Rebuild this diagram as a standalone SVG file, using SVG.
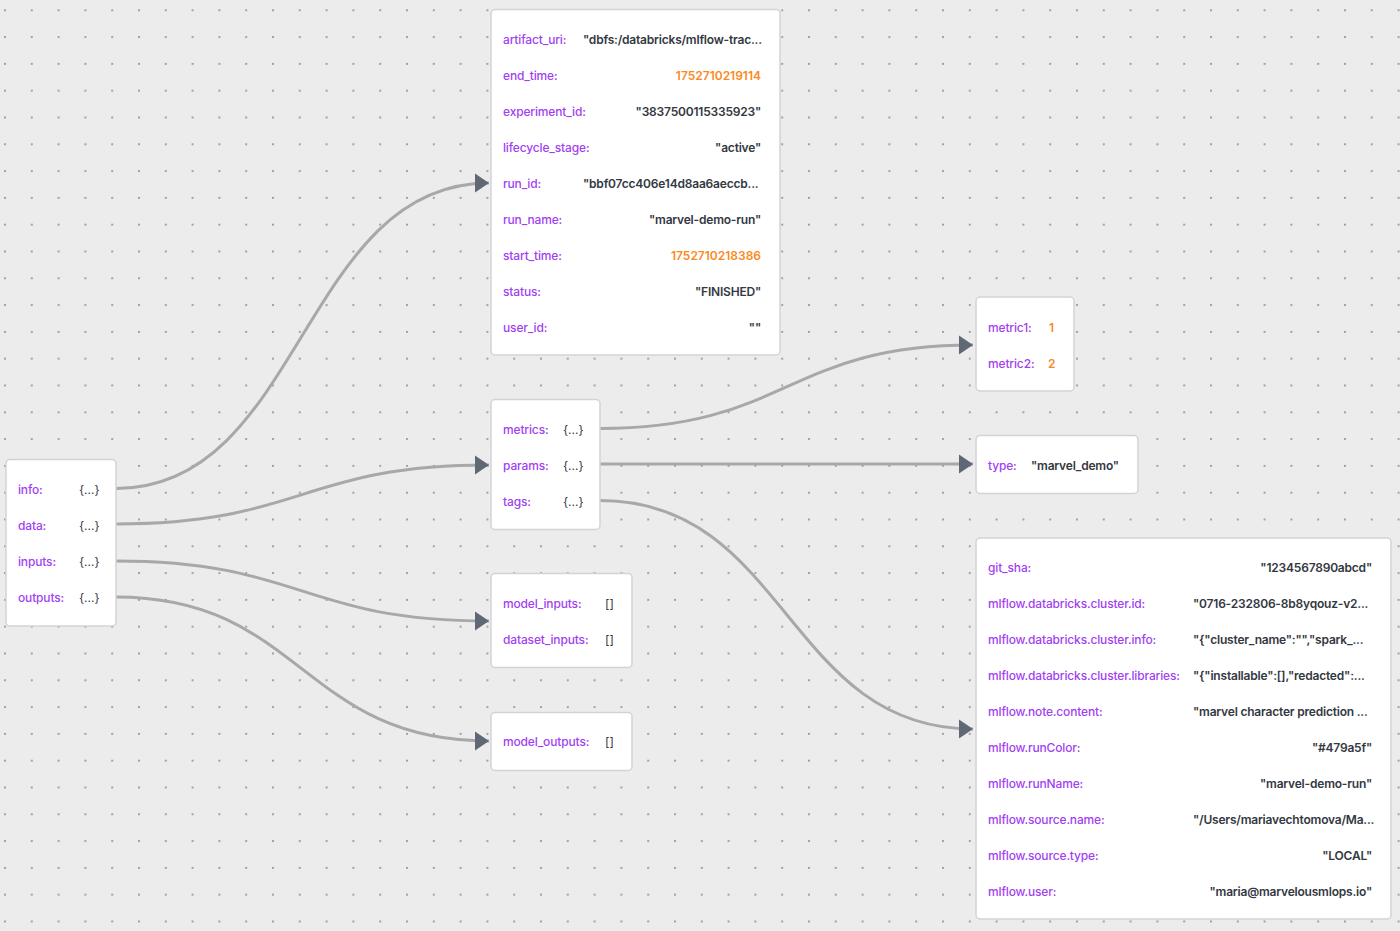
<svg xmlns="http://www.w3.org/2000/svg" width="1400" height="931" viewBox="0 0 1400 931">
<defs>
<pattern id="dots" patternUnits="userSpaceOnUse" x="4" y="9.3" width="26.8" height="26.8">
<circle cx="1" cy="1" r="1.1" fill="#9a9a9e"/>
</pattern>
<marker id="arr" markerUnits="userSpaceOnUse" markerWidth="15" markerHeight="20" viewBox="0 0 15 20" refX="14" refY="10" orient="auto">
<path d="M0,0.5 L14,10 L0,19.5 Z" fill="#616875"/>
</marker>
</defs>
<style>
.node rect{fill:#ffffff;stroke:#d1d3d8;stroke-width:1.5}
text{font-family:Inter,"Noto Sans","DejaVu Sans",sans-serif;font-size:12px}
.k{fill:#a23ff2;font-weight:500;letter-spacing:-0.15px}
.v{fill:#333842;font-weight:600;letter-spacing:-0.2px}
.n{fill:#f98a1e;font-weight:600}
.b{fill:#333842;font-weight:400}
.e{text-anchor:end}
.edges path{fill:none;stroke:#a8a8ac;stroke-width:3;marker-end:url(#arr)}
</style>
<rect width="1400" height="931" fill="#ececec"/>
<rect width="1400" height="931" fill="url(#dots)"/>
<g class="edges">
<path d="M116,488.5 C302,488.5 302,183 489,183"/>
<path d="M116,524 C302,524 302,465 489,465"/>
<path d="M116,561 C302,561 302,621 489,621"/>
<path d="M116,597 C302,597 302,741 489,741"/>
<path d="M600,428.5 C787,428.5 787,345 973,345"/>
<path d="M600,464 C787,464 787,464 973,464"/>
<path d="M600,500.5 C787,500.5 787,729 973,729"/>
</g>
<g id="node-root" class="node">
<rect x="6" y="459.5" width="110" height="166.5" rx="4"/>
<text x="18" y="494" class="k">info:</text><text x="79" y="494" class="b">{...}</text>
<text x="18" y="530" class="k">data:</text><text x="79" y="530" class="b">{...}</text>
<text x="18" y="566" class="k">inputs:</text><text x="79" y="566" class="b">{...}</text>
<text x="18" y="602" class="k">outputs:</text><text x="79" y="602" class="b">{...}</text>
</g>
<g id="node-info" class="node">
<rect x="491" y="9.5" width="289" height="345.5" rx="4"/>
<text x="503" y="44" class="k">artifact_uri:</text><text x="583" y="44" class="v">"dbfs:/databricks/mlflow-trac...</text>
<text x="503" y="80" class="k">end_time:</text><text x="761" y="80" class="n e">1752710219114</text>
<text x="503" y="116" class="k">experiment_id:</text><text x="761" y="116" class="v e">"3837500115335923"</text>
<text x="503" y="152" class="k">lifecycle_stage:</text><text x="761" y="152" class="v e">"active"</text>
<text x="503" y="188" class="k">run_id:</text><text x="583" y="188" class="v">"bbf07cc406e14d8aa6aeccb...</text>
<text x="503" y="224" class="k">run_name:</text><text x="761" y="224" class="v e">"marvel-demo-run"</text>
<text x="503" y="260" class="k">start_time:</text><text x="761" y="260" class="n e">1752710218386</text>
<text x="503" y="296" class="k">status:</text><text x="761" y="296" class="v e">"FINISHED"</text>
<text x="503" y="332" class="k">user_id:</text><text x="761" y="332" class="v e">""</text>
</g>
<g id="node-data" class="node">
<rect x="491" y="399.5" width="109" height="130" rx="4"/>
<text x="503" y="434" class="k">metrics:</text><text x="563" y="434" class="b">{...}</text>
<text x="503" y="470" class="k">params:</text><text x="563" y="470" class="b">{...}</text>
<text x="503" y="506" class="k">tags:</text><text x="563" y="506" class="b">{...}</text>
</g>
<g id="node-inputs" class="node">
<rect x="491" y="573.5" width="141" height="94" rx="4"/>
<text x="503" y="608" class="k">model_inputs:</text><text x="605" y="608" class="b">[]</text>
<text x="503" y="644" class="k">dataset_inputs:</text><text x="605" y="644" class="b">[]</text>
</g>
<g id="node-outputs" class="node">
<rect x="491" y="712.5" width="141" height="58" rx="4"/>
<text x="503" y="746" class="k">model_outputs:</text><text x="605" y="746" class="b">[]</text>
</g>
<g id="node-metrics" class="node">
<rect x="976" y="297" width="98" height="94" rx="4"/>
<text x="988" y="332" class="k">metric1:</text><text x="1049" y="332" class="n">1</text>
<text x="988" y="368" class="k">metric2:</text><text x="1048" y="368" class="n">2</text>
</g>
<g id="node-params" class="node">
<rect x="976" y="435.5" width="162" height="58" rx="4"/>
<text x="988" y="470" class="k">type:</text><text x="1031" y="470" class="v">"marvel_demo"</text>
</g>
<g id="node-tags" class="node">
<rect x="976" y="538" width="415" height="381" rx="4"/>
<text x="988" y="572" class="k">git_sha:</text><text x="1372" y="572" class="v e">"1234567890abcd"</text>
<text x="988" y="608" class="k">mlflow.databricks.cluster.id:</text><text x="1193" y="608" class="v">"0716-232806-8b8yqouz-v2...</text>
<text x="988" y="644" class="k">mlflow.databricks.cluster.info:</text><text x="1193" y="644" class="v">"{"cluster_name":"","spark_...</text>
<text x="988" y="680" class="k">mlflow.databricks.cluster.libraries:</text><text x="1193" y="680" class="v">"{"installable":[],"redacted":...</text>
<text x="988" y="716" class="k">mlflow.note.content:</text><text x="1193" y="716" class="v">"marvel character prediction ...</text>
<text x="988" y="752" class="k">mlflow.runColor:</text><text x="1372" y="752" class="v e">"#479a5f"</text>
<text x="988" y="788" class="k">mlflow.runName:</text><text x="1372" y="788" class="v e">"marvel-demo-run"</text>
<text x="988" y="824" class="k">mlflow.source.name:</text><text x="1193" y="824" class="v">"/Users/mariavechtomova/Ma...</text>
<text x="988" y="860" class="k">mlflow.source.type:</text><text x="1372" y="860" class="v e">"LOCAL"</text>
<text x="988" y="896" class="k">mlflow.user:</text><text x="1372" y="896" class="v e">"maria@marvelousmlops.io"</text>
</g>
</svg>
